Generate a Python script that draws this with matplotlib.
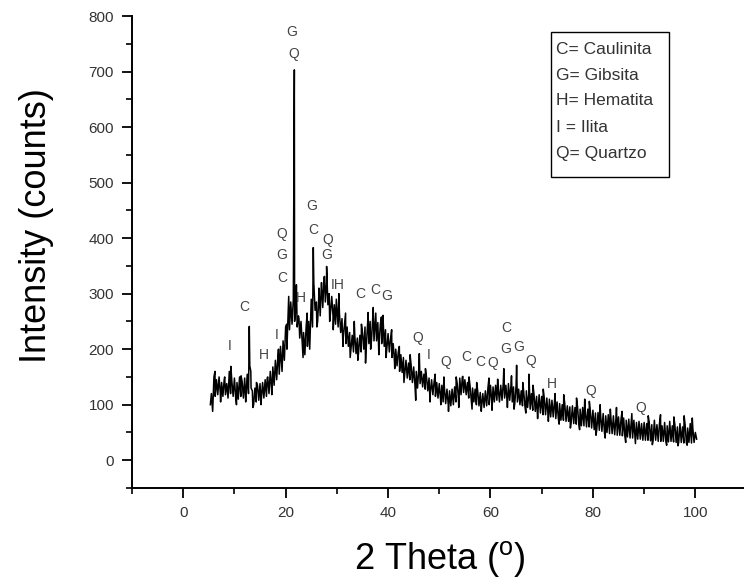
import numpy as np
import matplotlib
matplotlib.use("Agg")
import matplotlib.pyplot as plt
from matplotlib.patches import Rectangle
from matplotlib.ticker import MultipleLocator

plt.rcParams['font.family'] = ['Liberation Sans', 'DejaVu Sans']
plt.rcParams['mathtext.fontset'] = 'custom'
plt.rcParams['mathtext.rm'] = 'Liberation Sans'

# ---- data ----
# noisy band of the diffractogram, read every 0.5 deg: upper and lower edge
two_theta_start = 5.5
two_theta_step = 0.5
band_upper = [
    120, 150, 145, 150, 140, 145, 138, 160, 142, 148,   # 5.5 - 10
    140, 150, 142, 148, 155, 170, 125, 130, 135, 138,   # 10.5 - 15
    140, 145, 150, 160, 168, 180, 190, 205, 215, 240,   # 15.5 - 20
    270, 285, 290, 275, 260, 250, 230, 240, 250, 290,   # 20.5 - 25
    320, 285, 300, 320, 330, 320, 300, 295, 280, 275,   # 25.5 - 30
    265, 255, 245, 240, 230, 225, 225, 220, 225, 230,   # 30.5 - 35
    240, 245, 250, 255, 250, 248, 245, 240, 235, 228,   # 35.5 - 40
    220, 210, 200, 195, 190, 185, 180, 175, 172, 168,   # 40.5 - 45
    160, 165, 160, 155, 150, 148, 145, 142, 140, 138,   # 45.5 - 50
    135, 130, 128, 125, 128, 132, 138, 148, 150, 145,   # 50.5 - 55
    140, 135, 130, 128, 125, 122, 120, 125, 130, 135,   # 55.5 - 60
    132, 135, 130, 135, 140, 135, 138, 135, 132, 135,   # 60.5 - 65
    128, 125, 122, 125, 122, 120, 118, 115, 118, 115,   # 65.5 - 70
    112, 112, 110, 108, 106, 105, 102, 100, 102, 98,    # 70.5 - 75
    96, 98, 95, 96, 92, 95, 90, 92, 88, 90,             # 75.5 - 80
    85, 86, 82, 84, 80, 82, 78, 80, 76, 78,             # 80.5 - 85
    75, 76, 72, 74, 70, 72, 68, 70, 66, 68,             # 85.5 - 90
    66, 68, 64, 72, 64, 66, 62, 68, 62, 70,             # 90.5 - 95
    62, 64, 60, 66, 60, 64, 58, 66, 58, 50,             # 95.5 - 100
]
band_lower = [
    88, 115, 118, 120, 115, 118, 112, 120, 115, 112,    # 5.5 - 10
    110, 115, 112, 115, 120, 130, 100, 105, 108, 110,   # 10.5 - 15
    112, 115, 120, 128, 135, 145, 155, 165, 180, 200,   # 15.5 - 20
    235, 245, 250, 240, 220, 210, 190, 205, 215, 240,   # 20.5 - 25
    270, 250, 260, 275, 285, 280, 265, 260, 245, 240,   # 25.5 - 30
    230, 220, 210, 205, 200, 195, 192, 195, 195, 200,   # 30.5 - 35
    205, 210, 215, 215, 215, 212, 210, 205, 200, 195,   # 35.5 - 40
    185, 178, 170, 160, 158, 155, 148, 145, 140, 135,   # 40.5 - 45
    130, 138, 132, 128, 125, 120, 118, 115, 112, 110,   # 45.5 - 50
    105, 102, 100, 98, 100, 105, 110, 118, 122, 118,    # 50.5 - 55
    112, 108, 105, 100, 98, 95, 95, 98, 100, 105,       # 55.5 - 60
    105, 108, 105, 108, 112, 105, 108, 105, 103, 105,   # 60.5 - 65
    100, 98, 95, 95, 92, 90, 88, 85, 85, 82,            # 65.5 - 70
    82, 80, 78, 78, 75, 75, 72, 72, 70, 70,             # 70.5 - 75
    68, 66, 65, 64, 62, 62, 60, 60, 58, 55,             # 75.5 - 80
    55, 54, 52, 50, 50, 48, 48, 46, 45, 45,             # 80.5 - 85
    44, 42, 42, 40, 40, 38, 38, 38, 36, 36,             # 85.5 - 90
    36, 35, 35, 36, 34, 34, 34, 33, 33, 34,             # 90.5 - 95
    33, 32, 32, 32, 31, 31, 32, 31, 32, 38,             # 95.5 - 100
]
# isolated sharp peaks and noise spikes (up and down)
spike_theta = [5.3, 9.3, 12.9, 13.2, 20.6, 21.7, 22.1, 25.4, 26.9, 27.6, 28.0,
               29.9, 36.1, 37.1, 39.0, 45.4, 46.1, 54.6, 61.4, 62.6, 65.1,
               67.5, 79.3, 84.6,
               6.2, 7.3, 8.1, 10.4, 11.3, 12.2, 13.6, 14.3, 15.2, 16.4, 17.3,
               18.6, 19.3, 20.2, 22.6, 23.4, 24.2, 24.7, 26.1, 26.5, 28.6, 29.3,
               30.4, 31.2, 31.7, 32.6, 33.4, 34.1, 34.8, 35.6, 36.6, 37.6, 38.2,
               38.7, 39.6, 40.7, 41.3, 42.2, 43.1, 44.3, 47.3, 48.2, 49.2, 50.3,
               50.9, 51.8, 53.3, 53.8, 55.8, 56.4, 57.3, 58.2, 59.7, 60.3, 63.3,
               64.1, 64.6, 66.3, 66.9, 68.3, 69.2, 70.3, 71.3, 72.6, 73.4, 74.3,
               75.6, 76.8, 77.4, 78.4, 80.6, 81.4, 82.4, 83.4, 85.7, 86.4, 87.6,
               88.3, 90.8, 91.6, 93.2, 94.4, 95.8, 96.6, 97.8, 98.4, 99.4]
spike_counts = [100, 169, 241, 160, 295, 703, 316, 383, 300, 331, 349,
                290, 266, 275, 261, 108, 192, 151, 146, 165, 171,
                155, 106, 95,
                160, 105, 150, 100, 152, 105, 95, 140, 100, 148, 118,
                200, 160, 245, 255, 185, 265, 200, 240, 310, 250, 235,
                300, 205, 265, 185, 250, 180, 245, 175, 200, 265, 190,
                258, 185, 235, 165, 205, 140, 190, 165, 105, 155, 100,
                150, 88, 150, 95, 150, 92, 140, 88, 148, 90, 95,
                152, 92, 140, 85, 135, 75, 128, 70, 120, 65, 118,
                58, 112, 55, 110, 45, 100, 40, 92, 88, 32, 84,
                30, 80, 28, 82, 27, 78, 26, 80, 27, 76]

label_text = ['I', 'C', 'H', 'I', 'C', 'G', 'Q', 'G', 'Q', 'H',
              'G', 'C', 'Q', 'G', 'IH', 'C', 'C', 'G',
              'Q', 'I', 'Q', 'C', 'C', 'Q', 'C', 'G', 'G', 'Q',
              'H', 'Q', 'Q']
label_x = [9.1, 11.9, 15.8, 18.3, 19.3, 19.3, 19.3, 21.2, 21.6, 22.9,
           25.1, 25.3, 28.3, 28.1, 30.2, 34.5, 37.4, 39.7,
           45.8, 48.0, 51.3, 55.2, 58.0, 60.4, 63.0, 63.0, 65.6, 67.8,
           71.9, 79.5, 89.4]
label_y = [206, 276, 190, 225, 329, 370, 408, 772, 732, 292,
           457, 414, 397, 370, 315, 300, 307, 295,
           220, 189, 177, 186, 177, 175, 239, 201, 204, 179,
           138, 125, 94]

legend_lines = ['C= Caulinita', 'G= Gibsita', 'H= Hematita', 'I = Ilita', 'Q= Quartzo']

x_label = r'2 Theta ($^{\mathrm{o}}$)'
y_label = 'Intensity (counts)'

# ---- build series: trace runs upper -> lower -> upper ... through the band ----
grid = two_theta_start + two_theta_step * np.arange(len(band_upper))
tt = np.concatenate([grid, grid + two_theta_step / 2, spike_theta])
cc = np.concatenate([band_upper, band_lower, spike_counts])
order = np.argsort(tt, kind='stable')
tt, cc = tt[order], cc[order]

fig = plt.figure(figsize=(7.44, 5.84), dpi=100)
ax = fig.add_axes([132 / 744, 96 / 584, 612 / 744, 472 / 584])
ax.plot(tt, cc, color='black', lw=1.1)

ax.set_xlim(-10, 109.5)
ax.set_ylim(-50, 800)
for s in ['top', 'right']:
    ax.spines[s].set_visible(False)
for s in ['left', 'bottom']:
    ax.spines[s].set_linewidth(1.4)

ax.xaxis.set_minor_locator(MultipleLocator(10))
ax.yaxis.set_minor_locator(MultipleLocator(50))
ax.set_xticks([0, 20, 40, 60, 80, 100])
ax.set_yticks(np.arange(0, 801, 100))
ax.tick_params(which='major', direction='out', length=7, width=1.3,
               labelsize=11, labelcolor='#333333', pad=6)
ax.tick_params(which='minor', direction='out', length=4, width=1.2)

ax.set_xlabel(x_label, fontsize=26, color='black')
ax.xaxis.set_label_coords(0.503, -0.108)
ax.set_ylabel(y_label, fontsize=26, color='black')
ax.yaxis.set_label_coords(-0.128, 0.557)

for t, x, y in zip(label_text, label_x, label_y):
    ax.text(x, y, t, ha='center', va='center', fontsize=10, color='#444444')

# legend box
bx0, bx1 = (551 - 132) / 612, (669 - 132) / 612
by0, by1 = (488 - 177) / 472, (488 - 32) / 472
ax.add_patch(Rectangle((bx0, by0), bx1 - bx0, by1 - by0, transform=ax.transAxes,
                       fill=False, edgecolor='black', lw=1.0))
line_y = [49.3, 75, 100.7, 127.3, 153.3]
for txt, py in zip(legend_lines, line_y):
    ax.text((556 - 132) / 612, (488 - py) / 472, txt, transform=ax.transAxes,
            ha='left', va='center', fontsize=12.5, color='#333333')

fig.savefig('out.png', dpi=100)
